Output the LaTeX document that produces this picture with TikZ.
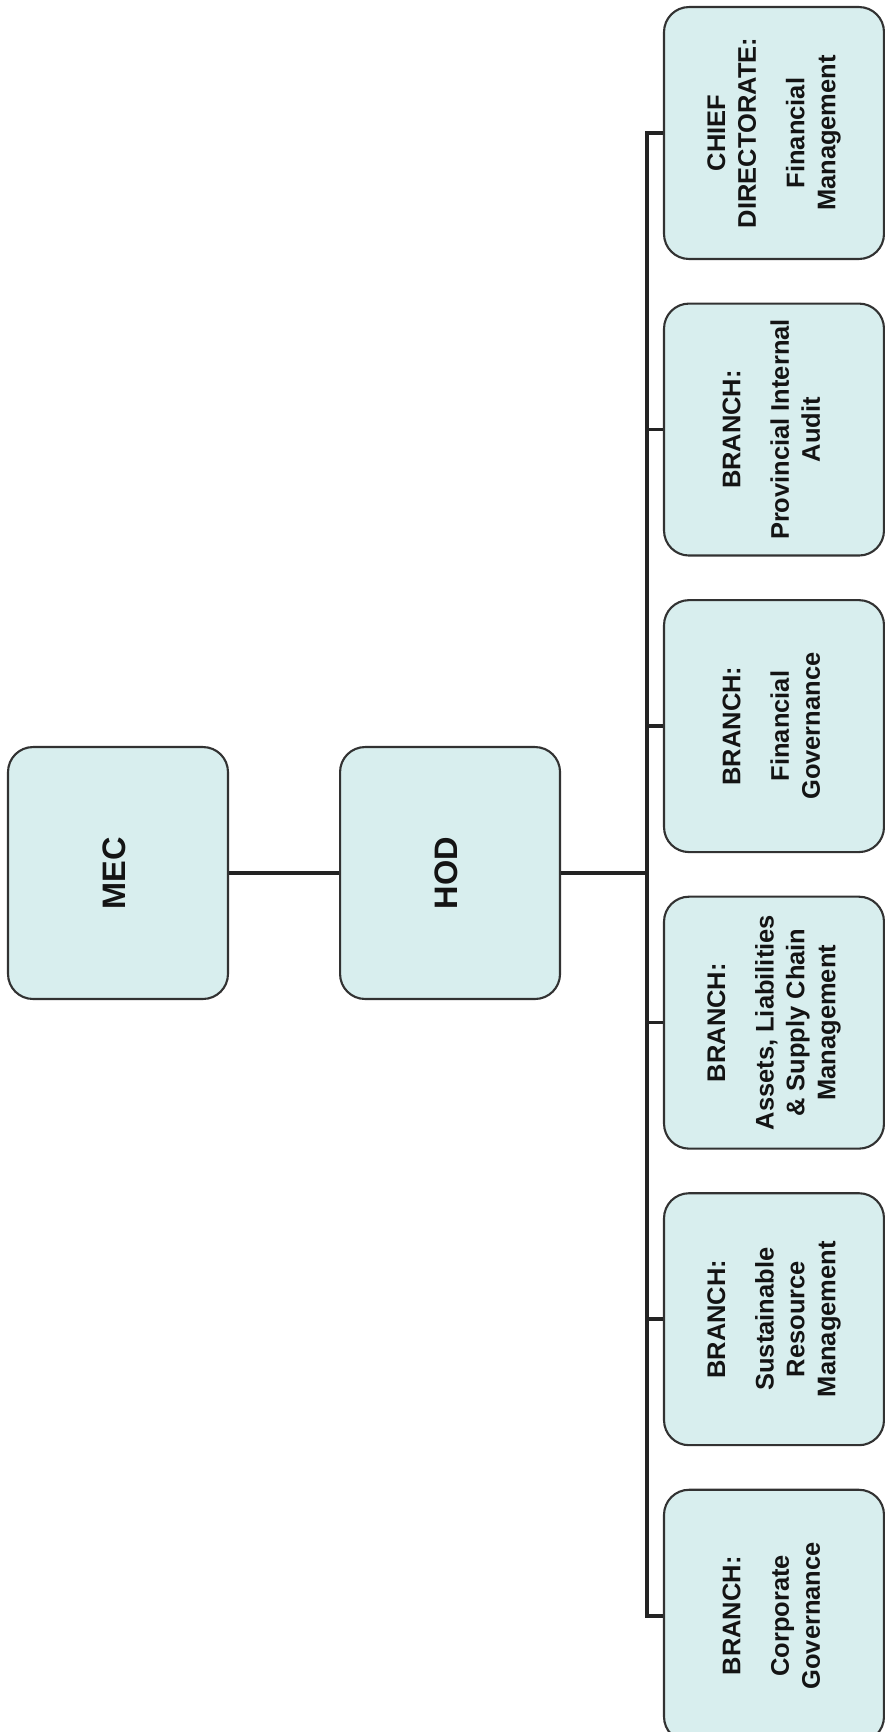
\documentclass[tikz,border=0pt]{standalone}
\usepackage{fontspec}
\setmainfont{Liberation Sans}
\usepackage{graphicx}
\usetikzlibrary{positioning}
\definecolor{boxfill}{RGB}{216,238,238}
\definecolor{boxline}{RGB}{50,50,50}
\definecolor{linkdark}{RGB}{35,35,35}
\newcommand{\uptext}[1]{\rotatebox{90}{\begin{tabular}{@{}c@{}}#1\end{tabular}}}

\begin{document}
\begin{tikzpicture}[x=0.02cm,y=-0.02cm, node distance=0.85cm,
        orgbox/.style={rectangle,rounded corners=0.5cm,draw=boxline,fill=boxfill,line width=1.2pt,
          minimum width=4.4cm,minimum height=5.04cm,inner sep=0pt,align=center,
          text=black!92,font=\fontsize{14.5}{17.6}\selectfont\bfseries},
        headbox/.style={orgbox,font=\fontsize{18.5}{21}\selectfont\bfseries},
        link/.style={draw=linkdark,line width=2pt}]
        \useasboundingbox (0,0) rectangle (885,1732);
        % top of the chart
        \node[headbox] (mec) at (118,873) {\uptext{MEC}};
        \node[headbox,right=2.2cm of mec] (hod) {\uptext{HOD}};
        % branches
        \node[orgbox] (cdfm) at (774,133) {\uptext{CHIEF\\DIRECTORATE:\\[10pt]Financial\\Management}};
        \node[orgbox,below=of cdfm] (bpia) {\uptext{BRANCH:\\[10pt]Provincial Internal\\Audit}};
        \node[orgbox,below=of bpia] (bfg) {\uptext{BRANCH:\\[10pt]Financial\\Governance}};
        \node[orgbox,below=of bfg] (bal) {\uptext{BRANCH:\\[10pt]Assets, Liabilities\\\& Supply Chain\\Management}};
        \node[orgbox,below=of bal] (bsrm) {\uptext{BRANCH:\\[10pt]Sustainable\\Resource\\Management}};
        \node[orgbox,below=of bsrm] (bcg) {\uptext{BRANCH:\\[10pt]Corporate\\Governance}};
        % lines
        \draw[link] (mec) -- (hod);
        \draw[link] (cdfm.west) -- ++(-0.32cm,0) coordinate (jn) |- (bcg.west);
        \draw[link] (hod) -- (hod -| jn);
        \draw[link] (bpia.west) -- (bpia.west -| jn);
        \draw[link] (bfg.west) -- (bfg.west -| jn);
        \draw[link] (bal.west) -- (bal.west -| jn);
        \draw[link] (bsrm.west) -- (bsrm.west -| jn);
      \end{tikzpicture}
\end{document}
